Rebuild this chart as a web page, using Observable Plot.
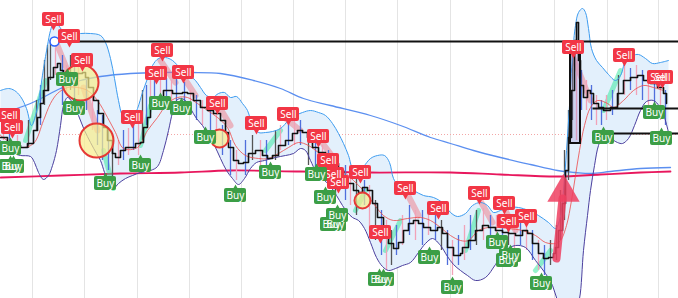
<!DOCTYPE html>
<html><head><meta charset="utf-8">
<script src="https://cdn.jsdelivr.net/npm/d3@7"></script>
<script src="https://cdn.jsdelivr.net/npm/@observablehq/plot@0.6"></script>
<style>body{margin:0;background:#fff;overflow:hidden} svg{display:block}</style>
</head><body><div id="chart"></div>
<script>
// All values are chart levels (x = bar position, y = level, top-down)
const gridX = [32,84,137,189,241,293,345,397,450,502,554,607,658];
const upperBand = [[0,90],[8,88],[14,90],[20,96],[26,108],[31,125],[35,115],[39,95],[43,68],[47,45],[50,30],[53,23],[57,24],[62,30],[70,34],[80,33],[90,33],[100,35],[105,42],[110,58],[114,78],[118,100],[122,115],[127,119],[132,118],[137,108],[142,92],[147,78],[152,65],[158,58],[165,57],[172,60],[180,68],[188,74],[195,80],[200,87],[206,95],[212,97],[218,93],[224,92],[230,97],[236,96],[242,103],[247,110],[252,125],[258,132],[265,132],[272,131],[280,128],[288,120],[295,115],[302,112],[310,110],[318,112],[325,115],[332,123],[338,133],[343,143],[348,155],[353,170],[358,170],[363,166],[370,158],[377,155],[384,155],[389,162],[393,178],[398,185],[405,186],[413,190],[423,195],[433,197],[443,203],[450,212],[457,216],[465,213],[472,205],[480,202],[487,205],[493,212],[500,210],[508,207],[518,207],[528,210],[538,215],[548,222],[555,228],[559,220],[563,190],[566,150],[569,105],[572,55],[575,25],[578,12],[582,8],[585,12],[588,28],[591,48],[596,60],[602,67],[608,74],[615,80],[620,75],[626,58],[632,55],[638,54],[645,58],[652,63],[660,62],[668,60]];
const lowerBand = [[0,140],[8,148],[14,153],[20,155],[30,156],[34,162],[38,172],[43,179],[48,175],[52,165],[56,150],[60,125],[63,105],[67,97],[72,102],[78,115],[84,130],[90,142],[96,153],[100,160],[104,172],[109,186],[113,188],[118,183],[125,178],[132,175],[140,172],[150,170],[157,166],[163,150],[168,130],[172,112],[176,100],[180,98],[185,100],[190,108],[196,118],[202,125],[208,135],[214,145],[220,158],[226,170],[232,178],[238,184],[244,178],[250,168],[256,162],[264,160],[275,157],[285,155],[293,153],[300,148],[305,150],[310,160],[316,172],[322,178],[330,186],[336,195],[342,205],[347,212],[352,217],[358,220],[364,228],[370,242],[376,257],[382,266],[388,270],[395,268],[402,265],[410,262],[418,252],[425,243],[432,238],[440,245],[447,256],[453,264],[460,270],[467,275],[475,280],[485,277],[495,264],[505,250],[515,245],[525,247],[535,260],[545,273],[552,285],[557,300],[565,315],[575,310],[579,298],[583,250],[587,215],[590,190],[594,165],[598,145],[603,135],[610,138],[617,142],[622,143],[628,138],[634,125],[640,110],[646,101],[653,100],[659,106],[664,117],[668,132]];
const basisBand = [[0,135],[20,147],[33,143],[43,120],[50,103],[57,93],[67,87],[77,87],[87,90],[97,100],[107,117],[115,132],[123,148],[137,147],[147,130],[157,117],[167,103],[177,97],[187,97],[197,103],[207,110],[217,117],[227,127],[235,145],[245,155],[258,158],[268,158],[278,153],[288,147],[298,142],[308,145],[318,152],[328,157],[340,168],[353,180],[363,190],[373,203],[383,215],[393,220],[407,218],[420,217],[430,220],[440,227],[450,235],[460,240],[468,240],[478,230],[488,227],[498,227],[508,228],[522,230],[535,235],[545,242],[555,243],[560,240],[566,225],[571,200],[575,175],[579,150],[584,125],[590,107],[597,100],[607,103],[613,107],[623,100],[633,90],[643,85],[653,87],[663,90]];
const priceLine = [[0,137],[7,143],[13,145],[20,147],[27,143],[33,130],[37,117],[40,103],[43,90],[48,77],[53,67],[57,63],[60,70],[63,80],[67,83],[72,78],[77,73],[82,72],[85,77],[88,87],[93,100],[98,113],[103,127],[107,140],[112,153],[115,157],[120,150],[125,147],[130,147],[135,143],[140,142],[143,127],[147,117],[150,107],[157,98],[163,90],[168,90],[172,93],[177,93],[182,92],[187,93],[193,100],[200,107],[207,110],[213,113],[220,120],[225,132],[228,147],[233,160],[238,163],[243,162],[248,153],[255,150],[262,155],[267,158],[272,155],[278,145],[285,140],[292,133],[297,130],[302,132],[307,137],[312,147],[318,152],[325,157],[332,163],[338,170],[343,177],[347,183],[353,190],[358,192],[362,187],[367,190],[372,203],[377,217],[383,230],[388,243],[393,248],[398,242],[403,230],[408,223],[413,220],[418,223],[423,227],[430,230],[437,227],[442,233],[447,247],[453,255],[460,253],[462,247],[468,240],[475,230],[482,225],[488,227],[495,230],[502,232],[508,233],[515,235],[522,230],[527,233],[532,243],[538,253],[543,258],[548,257],[553,253],[555,247],[558,230],[562,203],[565,170],[568,137],[571,90],[574,40],[576,22],[578,60],[580,85],[583,97],[587,90],[590,93],[593,103],[598,107],[603,110],[610,107],[617,93],[623,80],[630,77],[637,75],[643,80],[650,83],[657,87],[663,93],[666,103]];
const longMA = [[0,113],[30,103],[60,88],[80,80],[100,76],[130,73],[160,72],[190,72],[220,73],[253,80],[280,88],[303,98],[330,105],[370,115],[400,125],[430,137],[450,143],[473,150],[500,157],[530,164],[557,170],[575,172],[590,173],[610,171],[640,168],[670,167]];
const slowMA = [[0,177],[60,175],[120,173],[180,172],[230,170],[300,171],[370,172],[450,172],[500,174],[557,176],[600,174],[640,172],[670,171]];
// wicks: x, high, low, kind (b = blue, p = pink, g = gray)
const wicks = [[3,118,140,"p"],[9,125,150,"b"],[17,135,152,"p"],[28,120,148,"g"],[36,100,130,"g"],[40,85,125,"b"],[44,60,105,"g"],[47,45,90,"g"],[50,40,80,"g"],[55,48,75,"p"],[62,55,105,"b"],[66,65,95,"p"],[70,55,90,"g"],[74,58,100,"b"],[78,60,95,"p"],[86,80,110,"b"],[92,95,130,"p"],[97,110,145,"b"],[102,115,160,"b"],[108,130,170,"b"],[112,140,180,"g"],[118,140,165,"p"],[123,130,160,"b"],[128,128,155,"p"],[133,125,150,"b"],[138,120,155,"p"],[142,90,140,"g"],[146,85,125,"b"],[150,80,110,"p"],[154,75,105,"b"],[160,80,100,"p"],[166,78,100,"b"],[171,80,105,"p"],[176,78,105,"b"],[184,82,110,"b"],[190,90,115,"p"],[196,95,120,"b"],[202,100,125,"p"],[210,100,130,"b"],[216,110,140,"p"],[222,125,155,"b"],[230,140,175,"b"],[236,150,180,"p"],[245,140,175,"b"],[252,135,160,"g"],[260,140,170,"p"],[266,140,165,"b"],[275,130,160,"g"],[280,125,150,"p"],[288,120,145,"b"],[294,115,145,"p"],[300,120,145,"b"],[308,130,165,"g"],[315,135,170,"b"],[322,145,180,"p"],[328,150,185,"b"],[335,155,195,"g"],[345,165,200,"b"],[350,170,205,"p"],[356,175,215,"g"],[364,180,205,"b"],[369,185,230,"p"],[375,200,240,"g"],[381,210,255,"b"],[386,220,270,"p"],[391,230,265,"g"],[396,225,255,"b"],[402,215,245,"p"],[409,205,235,"b"],[415,210,240,"p"],[422,210,245,"b"],[428,215,235,"p"],[435,210,240,"b"],[441,220,250,"g"],[447,230,265,"b"],[452,240,275,"p"],[458,235,265,"b"],[464,225,260,"p"],[470,215,250,"b"],[476,210,245,"g"],[483,208,240,"p"],[490,215,240,"b"],[496,215,248,"p"],[502,220,250,"b"],[508,220,245,"g"],[514,222,250,"p"],[520,215,245,"b"],[526,220,250,"p"],[532,230,260,"b"],[538,240,270,"p"],[544,245,275,"b"],[550,240,265,"g"],[556,225,260,"g"],[560,190,240,"g"],[564,150,220,"g"],[568,110,180,"g"],[572,40,120,"g"],[576,60,140,"p"],[581,70,110,"b"],[586,80,110,"p"],[591,85,120,"b"],[596,95,125,"p"],[601,100,125,"b"],[606,95,120,"p"],[612,90,115,"b"],[618,75,105,"g"],[624,65,95,"p"],[630,68,90,"b"],[636,65,95,"p"],[642,70,100,"b"],[648,75,105,"p"],[654,75,110,"b"],[660,80,120,"p"],[665,90,125,"b"]];
// trend highlight segments: x1,y1,x2,y2
const downSwings = [[57,45,73,85],[83,87,97,130],[160,60,175,82],[180,72,195,95],[215,100,230,125],[285,118,300,130],[320,140,335,160],[405,190,418,215],[478,197,492,222],[505,210,515,230],[570,50,590,100]];
const upSwings = [[25,140,45,80],[103,150,113,188],[140,145,150,105],[265,150,280,130],[355,210,365,190],[385,250,400,220],[465,250,478,210],[535,270,550,250],[603,110,620,70]];
const sellSignals = [[53,19],[69,36],[82,60],[9,115],[12,127],[162,50],[156,73],[183,72],[132,117],[217,103],[256,123],[288,114],[318,136],[328,160],[333,174],[338,182],[360,172],[405,188],[438,208],[380,232],[479,193],[504,203],[508,221],[526,216],[573,47],[624,55],[658,77],[662,77]];
const buySignals = [[10,148],[10,166],[13,166],[67,79],[74,108],[105,183],[140,165],[160,103],[181,108],[205,137],[235,195],[270,172],[316,174],[325,197],[337,215],[331,224],[335,224],[379,279],[383,279],[429,257],[452,287],[497,242],[507,260],[510,255],[541,283],[603,137],[654,112],[661,138]];
const circles = [[80,82,18],[96,140,17],[219,138,9],[362,200,8]];
const anchor = [[54,41]];
const levels = [[54,678,41],[592,678,108],[592,678,133]];
const boxZone = [[570,580,47,143]];
const dottedLevel = [134];
const arrowShaft = [[556,258],[562,198]];
const arrowHead = [[563,192]];

const W = 678, H = 298;
const wickColor = {b:"#4f6fdc", p:"#f2a2b8", g:"#555"};
const bandPoly = upperBand.concat(lowerBand.slice().reverse());
const P = (a) => a.map(([x,y]) => ({x,y}));

const chart = Plot.plot({
  width: W, height: H, margin: 0,
  x: {domain: [0, W], axis: null},
  y: {domain: [0, H], reverse: true, axis: null},
  r: {type: "identity"},
  style: {background: "#fff"},
  marks: [
    Plot.ruleX(gridX, {stroke: "#e4e4e4", strokeWidth: 1}),
    Plot.ruleY(dottedLevel, {stroke: "#f3a6a6", strokeDasharray: "1,2", strokeWidth: 1}),
    Plot.line(P(bandPoly), {x: "x", y: "y", fill: "#e3f0fc", stroke: "none", curve: "linear"}),
    Plot.line(P(longMA), {x: "x", y: "y", stroke: "#5b8ff0", strokeWidth: 1.3, curve: "catmull-rom"}),
    Plot.line(P(slowMA), {x: "x", y: "y", stroke: "#e8175d", strokeWidth: 1.8, curve: "catmull-rom"}),
    Plot.link(downSwings, {x1: d=>d[0], y1: d=>d[1], x2: d=>d[2], y2: d=>d[3], stroke: "#f06a78", strokeOpacity: 0.45, strokeWidth: 6, strokeLinecap: "round"}),
    Plot.link(upSwings, {x1: d=>d[0], y1: d=>d[1], x2: d=>d[2], y2: d=>d[3], stroke: "#2ee89a", strokeOpacity: 0.5, strokeWidth: 5, strokeLinecap: "round"}),
    Plot.ruleX(wicks, {x: d=>d[0], y1: d=>d[1], y2: d=>d[2], stroke: d=>wickColor[d[3]], strokeWidth: 1.3}),
    Plot.line(P(upperBand), {x: "x", y: "y", stroke: "#3d9cf0", strokeWidth: 1, curve: "catmull-rom"}),
    Plot.line(P(lowerBand), {x: "x", y: "y", stroke: "#4b3f9e", strokeWidth: 1, curve: "catmull-rom"}),
    Plot.line(P(basisBand), {x: "x", y: "y", stroke: "#ec4a4a", strokeOpacity: 0.8, strokeWidth: 1, curve: "catmull-rom"}),
    Plot.rect(boxZone, {x1: d=>d[0], x2: d=>d[1], y1: d=>d[2], y2: d=>d[3], fill: "#9c8fd0", fillOpacity: 0.3, stroke: "#111", strokeWidth: 2}),
    Plot.line(P(priceLine), {x: "x", y: "y", stroke: "#111", strokeWidth: 1.6, curve: "step-after"}),
    Plot.link(levels, {x1: d=>d[0], x2: d=>d[1], y1: d=>d[2], y2: d=>d[2], stroke: "#111", strokeWidth: 2}),
    Plot.dot(circles, {x: d=>d[0], y: d=>d[1], r: d=>d[2], fill: "#f8ec8a", fillOpacity: 0.7, stroke: "#e53935", strokeWidth: 2}),
    Plot.dot(anchor, {x: d=>d[0], y: d=>d[1], r: 4.5, fill: "#fff", stroke: "#2962ff", strokeWidth: 1.5}),
    Plot.line(P(arrowShaft), {x: "x", y: "y", stroke: "#ef4060", strokeOpacity: 0.85, strokeWidth: 8}),
    Plot.dot(arrowHead, {x: d=>d[0], y: d=>d[1], symbol: "triangle", r: 12, fill: "#ef4060", fillOpacity: 0.85, stroke: "none"}),
    // signals
    Plot.dot(sellSignals, {x: d=>d[0], y: d=>d[1], dy: 7, symbol: "triangle", rotate: 180, r: 2.5, fill: "#f23645"}),
    Plot.rect(sellSignals, {x1: d=>d[0]-11, x2: d=>d[0]+11, y1: d=>d[1]-7, y2: d=>d[1]+7, rx: 2, fill: "#f23645"}),
    Plot.text(sellSignals, {x: d=>d[0], y: d=>d[1], text: () => "Sell", fill: "#fff", fontSize: 10, fontFamily: "Noto Sans, sans-serif"}),
    Plot.dot(buySignals, {x: d=>d[0], y: d=>d[1], dy: -7, symbol: "triangle", r: 2.5, fill: "#3c9e46"}),
    Plot.rect(buySignals, {x1: d=>d[0]-11, x2: d=>d[0]+11, y1: d=>d[1]-7, y2: d=>d[1]+7, rx: 2, fill: "#3c9e46"}),
    Plot.text(buySignals, {x: d=>d[0], y: d=>d[1], text: () => "Buy", fill: "#fff", fontSize: 10, fontFamily: "Noto Sans, sans-serif"})
  ]
});
document.getElementById("chart").appendChild(chart);
</script>
</body></html>
